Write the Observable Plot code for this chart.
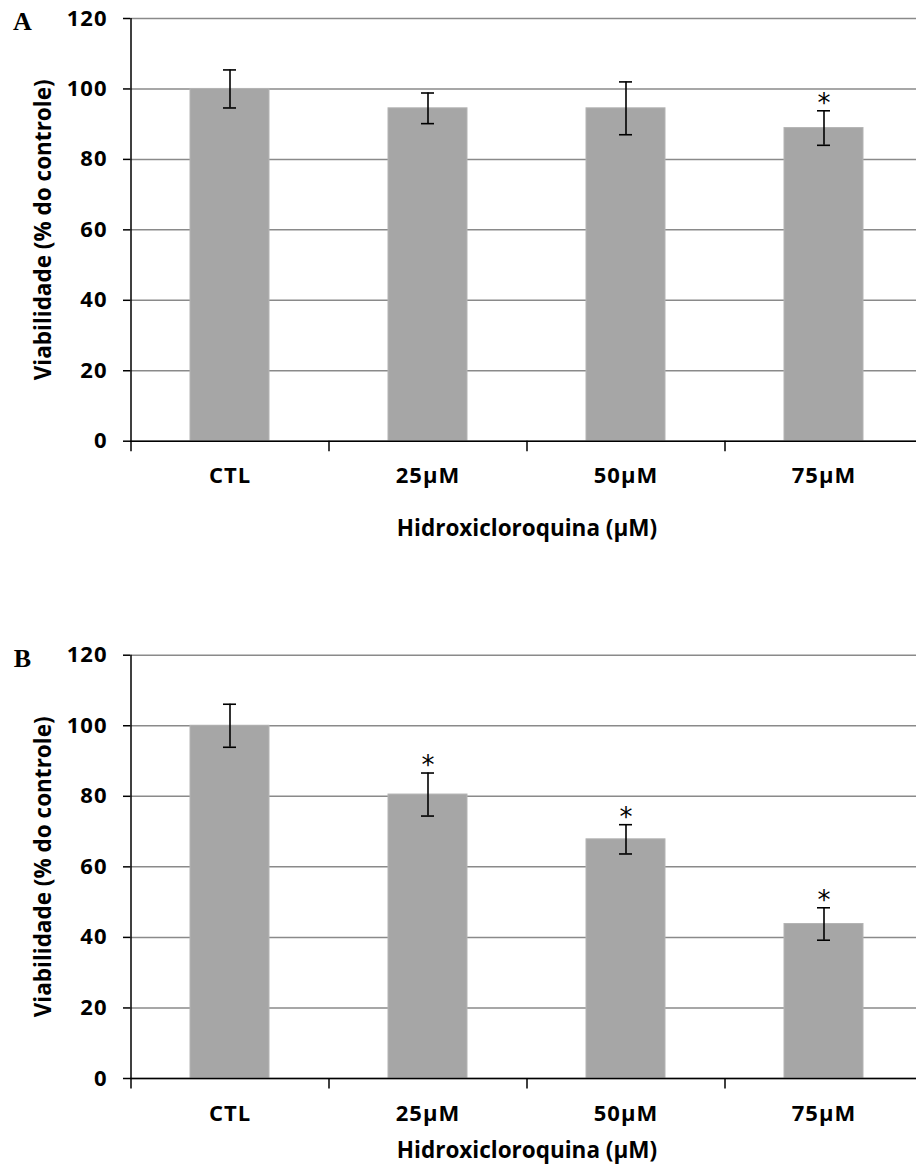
<!DOCTYPE html>
<html>
<head>
<meta charset="utf-8">
<script src="https://cdn.jsdelivr.net/npm/d3@7"></script>
<script src="https://cdn.jsdelivr.net/npm/@observablehq/plot@0.6"></script>
<style>
  html, body { margin: 0; padding: 0; background: #fff; }
  svg { display: block; }
  .ticklab text, text.ticklab { letter-spacing: 1px; }
</style>
</head>
<body>
<div id="chart"></div>
<script>
const categories = ["CTL", "25µM", "50µM", "75µM"];
const yTicks = [0, 20, 40, 60, 80, 100, 120];

const meansA = [100, 94.5, 94.5, 88.9];
const sdA    = [5.4, 4.35, 7.5, 4.9];
const sigA   = [false, false, false, true];

const meansB = [100, 80.5, 67.8, 43.8];
const sdB    = [6.1, 6.1, 4.15, 4.6];
const sigB   = [false, true, true, true];

const xTitle = "Hidroxicloroquina (µM)";
const yTitle = "Viabilidade (% do controle)";

function chart({letter, means, sd, sig, height, marginTop, marginBottom, titleDy}) {
  const rows = categories.map((c, i) => ({cat: c, mean: means[i], lo: means[i] - sd[i], hi: means[i] + sd[i], sig: sig[i]}));
  const tickFont = {fontSize: 22, fontWeight: "bold", fontFamily: "Open Sans"};
  const titleFont = {fontSize: 22.5, fontWeight: "bold", fontFamily: "Open Sans"};
  return Plot.plot({
    width: 916,
    height,
    marginTop,
    marginBottom,
    marginLeft: 130,
    marginRight: -7,
    style: {background: "#fff", fontFamily: "Open Sans", color: "#000"},
    x: {domain: categories, paddingInner: 0.6, paddingOuter: 0.3, axis: null},
    y: {domain: [0, 120], axis: null},
    marks: [
      Plot.ruleY(yTicks, {stroke: "#8a8a8a", strokeWidth: 1.5}),
      Plot.barY(rows, {x: "cat", y: "mean", fill: "#a6a6a6", stroke: "#b4b4b4", strokeWidth: 1}),
      Plot.ruleX(rows, {x: "cat", y1: "lo", y2: "hi", stroke: "#000", strokeWidth: 1.6}),
      Plot.tickY(rows, {x: "cat", y: "lo", stroke: "#000", strokeWidth: 1.6, insetLeft: 33, insetRight: 33}),
      Plot.tickY(rows, {x: "cat", y: "hi", stroke: "#000", strokeWidth: 1.6, insetLeft: 33, insetRight: 33}),
      Plot.text(rows.filter(d => d.sig), {x: "cat", y: "hi", text: () => "*", lineAnchor: "bottom", dy: 1, fontSize: 26, fontFamily: "DejaVu Sans"}),
      // x axis line and y axis line
      Plot.ruleY([0], {stroke: "#000", strokeWidth: 1.5}),
      Plot.ruleX([categories[0]], {x: d => d, dx: -99, y1: -3, y2: 120, stroke: "#000", strokeWidth: 1.5}),
      // x ticks at category boundaries
      Plot.ruleX(categories.slice(1), {x: d => d, dx: -99, y1: -3, y2: 0, stroke: "#000", strokeWidth: 1.5}),
      Plot.axisY({ticks: yTicks, tickSize: 7, tickPadding: 16, tickFormat: d => d, label: null, ...tickFont, strokeWidth: 1.5, className: "ticklab"}),
      Plot.text(categories, {x: d => d, text: d => d, frameAnchor: "bottom", lineAnchor: "middle", textAnchor: "middle", dy: 35, ...tickFont, className: "ticklab"}),
      Plot.text([xTitle], {frameAnchor: "bottom", lineAnchor: "middle", textAnchor: "middle", dy: titleDy, ...titleFont}),
      Plot.text([yTitle], {frameAnchor: "left", lineAnchor: "middle", textAnchor: "middle", dx: -87, rotate: -90, ...titleFont}),
      Plot.text([letter], {frameAnchor: "top-left", lineAnchor: "middle", textAnchor: "middle", dx: -108, dy: 3, fontSize: 26, fontWeight: "bold", fontFamily: "Liberation Serif"})
    ]
  });
}

const el = document.getElementById("chart");
el.append(chart({letter: "A", means: meansA, sd: sdA, sig: sigA, height: 636, marginTop: 18, marginBottom: 195.3, titleDy: 88}));
el.append(chart({letter: "B", means: meansB, sd: sdB, sig: sigB, height: 533, marginTop: 18.7, marginBottom: 91, titleDy: 72}));
</script>
</body>
</html>
